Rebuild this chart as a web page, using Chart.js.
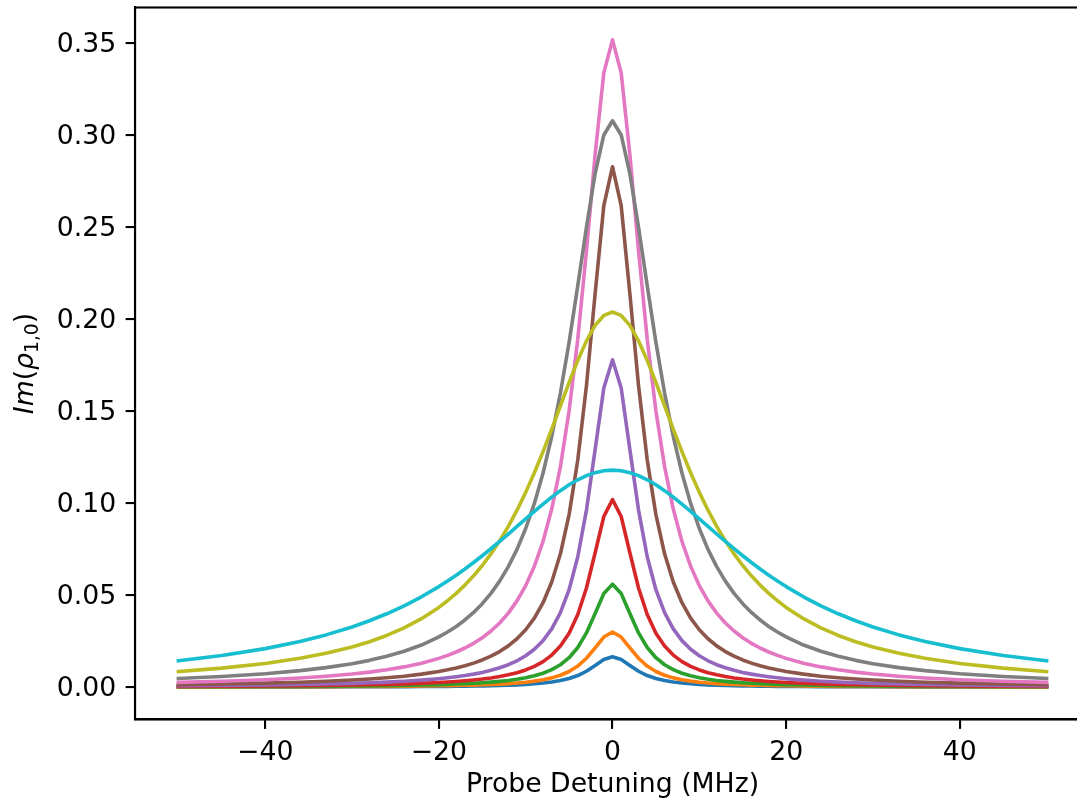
<!DOCTYPE html>
<html>
<head>
<meta charset="utf-8">
<script src="https://cdn.jsdelivr.net/npm/chart.js@4/dist/chart.umd.min.js"></script>
<style>
  html, body { margin: 0; padding: 0; background: #fff; overflow: hidden; width: 1077px; height: 803px; }
  #wrap { position: absolute; left: 0; top: 0; width: 1077px; height: 803px; overflow: hidden; }
  canvas { display: block; }
</style>
</head>
<body>
<div id="wrap"><canvas id="c" width="1130" height="803"></canvas></div>
<script>
// ---- data ----
const detuning = [-50,-45,-40,-36,-33,-30,-28,-26,-24,-22,-20,-19,-18,-17,-16,-15,-14,-13,-12,-11,-10,-9,-8,-7,-6,-5,-4,-3,-2,-1,0,1,2,3,4,5,6,7,8,9,10,11,12,13,14,15,16,17,18,19,20,22,24,26,28,30,33,36,40,45,50];

const curve1 = [0.00007,0.00008,0.00010,0.00013,0.00015,0.00018,0.00021,0.00024,0.00028,0.00033,0.00040,0.00044,0.00049,0.00055,0.00061,0.00070,0.00079,0.00091,0.00106,0.00125,0.00149,0.00180,0.00221,0.00277,0.00356,0.00468,0.00631,0.00864,0.01175,0.01499,
  0.0165,
  0.01499,0.01175,0.00864,0.00631,0.00468,0.00356,0.00277,0.00221,0.00180,0.00149,0.00125,0.00106,0.00091,0.00079,0.00070,0.00061,0.00055,0.00049,0.00044,0.00040,0.00033,0.00028,0.00024,0.00021,0.00018,0.00015,0.00013,0.00010,0.00008,0.00007];
const curve2 = [0.00012,0.00015,0.00018,0.00023,0.00027,0.00033,0.00037,0.00043,0.00051,0.00060,0.00072,0.00080,0.00089,0.00099,0.00112,0.00126,0.00144,0.00166,0.00193,0.00227,0.00270,0.00327,0.00402,0.00504,0.00647,0.00851,0.01147,0.01571,0.02137,0.02725,
  0.0300,
  0.02725,0.02137,0.01571,0.01147,0.00851,0.00647,0.00504,0.00402,0.00327,0.00270,0.00227,0.00193,0.00166,0.00144,0.00126,0.00112,0.00099,0.00089,0.00080,0.00072,0.00060,0.00051,0.00043,0.00037,0.00033,0.00027,0.00023,0.00018,0.00015,0.00012];
const curve3 = [0.00022,0.00028,0.00035,0.00043,0.00051,0.00062,0.00071,0.00082,0.00096,0.00113,0.00137,0.00151,0.00168,0.00187,0.00211,0.00238,0.00272,0.00313,0.00364,0.00427,0.00509,0.00615,0.00757,0.00949,0.01217,0.0160,0.02154,0.02947,0.0400,0.05091,
  0.0560,
  0.05091,0.0400,0.02947,0.02154,0.0160,0.01217,0.00949,0.00757,0.00615,0.00509,0.00427,0.00364,0.00313,0.00272,0.00238,0.00211,0.00187,0.00168,0.00151,0.00137,0.00113,0.00096,0.00082,0.00071,0.00062,0.00051,0.00043,0.00035,0.00028,0.00022];
const curve4 = [0.00041,0.00051,0.00064,0.00079,0.00094,0.00113,0.00130,0.00150,0.00176,0.00208,0.00251,0.00278,0.00308,0.00344,0.00387,0.00438,0.00500,0.00575,0.00669,0.00786,0.00936,0.01131,0.01390,0.01743,0.02235,0.02935,0.03947,0.05394,0.07306,0.09281,
  0.1020,
  0.09281,0.07306,0.05394,0.03947,0.02935,0.02235,0.01743,0.01390,0.01131,0.00936,0.00786,0.00669,0.00575,0.00500,0.00438,0.00387,0.00344,0.00308,0.00278,0.00251,0.00208,0.00176,0.00150,0.00130,0.00113,0.00094,0.00079,0.00064,0.00051,0.00041];
const curve5 = [0.00075,0.00093,0.00117,0.00144,0.00172,0.00207,0.00237,0.00275,0.00322,0.00381,0.00460,0.00508,0.00564,0.00630,0.00708,0.00801,0.00913,0.01051,0.01220,0.01434,0.01706,0.02060,0.02529,0.03166,0.04049,0.05300,0.07093,0.09627,0.12923,0.16266,
  0.1780,
  0.16266,0.12923,0.09627,0.07093,0.05300,0.04049,0.03166,0.02529,0.02060,0.01706,0.01434,0.01220,0.01051,0.00913,0.00801,0.00708,0.00630,0.00564,0.00508,0.00460,0.00381,0.00322,0.00275,0.00237,0.00207,0.00172,0.00144,0.00117,0.00093,0.00075];
const curve6 = [0.00140,0.00172,0.00218,0.00268,0.00319,0.00385,0.00441,0.00510,0.00596,0.00707,0.00851,0.00940,0.01043,0.01164,0.01307,0.01478,0.01684,0.01935,0.02244,0.02631,0.03122,0.03757,0.04593,0.05715,0.07250,0.09383,0.12356,0.16398,0.21398,0.26188,
  0.2830,
  0.26188,0.21398,0.16398,0.12356,0.09383,0.07250,0.05715,0.04593,0.03757,0.03122,0.02631,0.02244,0.01935,0.01684,0.01478,0.01307,0.01164,0.01043,0.00940,0.00851,0.00707,0.00596,0.00510,0.00441,0.00385,0.00319,0.00268,0.00218,0.00172,0.00140];
const curve7 = [0.00260,0.00320,0.00404,0.00498,0.00591,0.00713,0.00816,0.00943,0.01101,0.01303,0.01564,0.01725,0.01911,0.02128,0.02384,0.02688,0.03051,0.03490,0.04027,0.04690,0.05520,0.06573,0.07926,0.09685,0.11991,0.15016,0.18923,0.23722,0.28970,0.33404,
  0.3520,
  0.33404,0.28970,0.23722,0.18923,0.15016,0.11991,0.09685,0.07926,0.06573,0.05520,0.04690,0.04027,0.03490,0.03051,0.02688,0.02384,0.02128,0.01911,0.01725,0.01564,0.01303,0.01101,0.00943,0.00816,0.00713,0.00591,0.00498,0.00404,0.00320,0.00260];
const curve8 = [0.00472,0.00581,0.00731,0.00898,0.01062,0.01276,0.01456,0.01676,0.01948,0.02291,0.02730,0.02996,0.03301,0.03654,0.04063,0.04540,0.05100,0.05763,0.06551,0.07493,0.08626,0.09993,0.11643,0.13630,0.15996,0.18750,0.21823,0.25013,0.27928,0.30028,
  0.3080,
  0.30028,0.27928,0.25013,0.21823,0.18750,0.15996,0.13630,0.11643,0.09993,0.08626,0.07493,0.06551,0.05763,0.05100,0.04540,0.04063,0.03654,0.03301,0.02996,0.02730,0.02291,0.01948,0.01676,0.01456,0.01276,0.01062,0.00898,0.00731,0.00581,0.00472];
const curve9 = [0.00845,0.01033,0.01290,0.01569,0.01841,0.02186,0.02470,0.02810,0.03221,0.03722,0.04337,0.04698,0.05100,0.05550,0.06053,0.06616,0.07247,0.07954,0.08743,0.09621,0.10592,0.11657,0.12809,0.14033,0.15300,0.16565,0.17768,0.18831,0.19671,0.20213,
  0.2040,
  0.20213,0.19671,0.18831,0.17768,0.16565,0.15300,0.14033,0.12809,0.11657,0.10592,0.09621,0.08743,0.07954,0.07247,0.06616,0.06053,0.05550,0.05100,0.04698,0.04337,0.03722,0.03221,0.02810,0.02470,0.02186,0.01841,0.01569,0.01290,0.01033,0.00845];
const curve10 = [0.01432,0.01719,0.02095,0.02483,0.02841,0.03272,0.03608,0.03990,0.04423,0.04913,0.05467,0.05769,0.06088,0.06424,0.06776,0.07145,0.07527,0.07922,0.08327,0.08738,0.09150,0.09558,0.09955,0.10334,0.10686,0.11003,0.11277,0.11500,0.11665,0.11766,
  0.1180,
  0.11766,0.11665,0.11500,0.11277,0.11003,0.10686,0.10334,0.09955,0.09558,0.09150,0.08738,0.08327,0.07922,0.07527,0.07145,0.06776,0.06424,0.06088,0.05769,0.05467,0.04913,0.04423,0.03990,0.03608,0.03272,0.02841,0.02483,0.02095,0.01719,0.01432];

const xTicks = [-40, -20, 0, 20, 40];
const yTicks = [0.00, 0.05, 0.10, 0.15, 0.20, 0.25, 0.30, 0.35];
const xTitle = 'Probe Detuning (MHz)';

// ---- styling ----
const curves = [curve1, curve2, curve3, curve4, curve5, curve6, curve7, curve8, curve9, curve10];
const colors = ['#1f77b4','#ff7f0e','#2ca02c','#d62728','#9467bd','#8c564b','#e377c2','#7f7f7f','#bcbd22','#17becf'];
const FONT = 'DejaVu Sans';
const FS = 26.7;
const TICK_LEN = 9.4;
const SPINE_W = 2.1;

const datasets = curves.map((arr, i) => ({
  data: detuning.map((x, j) => ({ x: x, y: arr[j] })),
  borderColor: colors[i],
  backgroundColor: colors[i],
  borderWidth: 3.6,
  pointRadius: 0,
  tension: 0,
  fill: false,
  borderJoinStyle: 'round',
  borderCapStyle: 'square',
  order: curves.length - i
}));

const framePlugin = {
  id: 'frame',
  afterDraw(chart) {
    const { ctx, chartArea: a } = chart;
    ctx.save();
    ctx.strokeStyle = '#000';
    ctx.lineWidth = SPINE_W;
    ctx.strokeRect(a.left, a.top, a.right - a.left, a.bottom - a.top);
    // y-axis label: Im(rho_{1,0}) rotated
    ctx.translate(33, (a.top + a.bottom) / 2);
    ctx.rotate(-Math.PI / 2);
    ctx.fillStyle = '#000';
    ctx.textBaseline = 'alphabetic';
    ctx.textAlign = 'left';
    const it = 'italic ' + FS + 'px "' + FONT + '"';
    const up = FS + 'px "' + FONT + '"';
    const sub = (FS * 0.7).toFixed(2) + 'px "' + FONT + '"';
    const parts = [
      { t: 'Im', f: it, dy: 0 },
      { t: '(', f: up, dy: 0 },
      { t: '\u03C1', f: it, dy: 0 },
      { t: '1,0', f: sub, dy: FS * 0.2 },
      { t: ')', f: up, dy: 0 }
    ];
    let total = 0;
    parts.forEach(p => { ctx.font = p.f; p.w = ctx.measureText(p.t).width; total += p.w; });
    let x = -total / 2;
    parts.forEach(p => { ctx.font = p.f; ctx.fillText(p.t, x, p.dy); x += p.w; });
    ctx.restore();
  }
};

new Chart(document.getElementById('c'), {
  type: 'line',
  data: { datasets: datasets },
  plugins: [framePlugin],
  options: {
    responsive: false,
    animation: false,
    events: [],
    layout: { padding: { top: 7.5, right: 40, left: 0, bottom: 0 } },
    plugins: { legend: { display: false }, tooltip: { enabled: false } },
    scales: {
      x: {
        type: 'linear',
        min: -55, max: 55,
        afterBuildTicks: (axis) => { axis.ticks = xTicks.map(v => ({ value: v })); },
        afterFit: (axis) => { axis.height = 83.5; axis.paddingLeft = 0; axis.paddingRight = 0; },
        grid: { drawOnChartArea: false, drawTicks: true, tickLength: TICK_LEN, color: '#000', lineWidth: SPINE_W },
        border: { display: true, color: '#000', width: SPINE_W },
        ticks: {
          color: '#000', padding: 8, maxRotation: 0, autoSkip: false,
          font: { family: FONT, size: FS },
          callback: (v) => (v < 0 ? '\u2212' + Math.abs(v) : String(v))
        },
        title: {
          display: true, text: xTitle, color: '#000',
          font: { family: FONT, size: FS, lineHeight: 1.2 },
          padding: { top: 0, bottom: 2.2 }
        }
      },
      y: {
        type: 'linear',
        min: -0.0176, max: 0.3696,
        afterBuildTicks: (axis) => { axis.ticks = yTicks.map(v => ({ value: v })); },
        afterFit: (axis) => { axis.width = 135; axis.paddingTop = 0; axis.paddingBottom = 0; },
        grid: { drawOnChartArea: false, drawTicks: true, tickLength: TICK_LEN, color: '#000', lineWidth: SPINE_W },
        border: { display: true, color: '#000', width: SPINE_W },
        ticks: {
          color: '#000', padding: 9.4, autoSkip: false, labelOffset: 2,
          font: { family: FONT, size: FS },
          callback: (v) => v.toFixed(2)
        }
      }
    }
  }
});
</script>
</body>
</html>
